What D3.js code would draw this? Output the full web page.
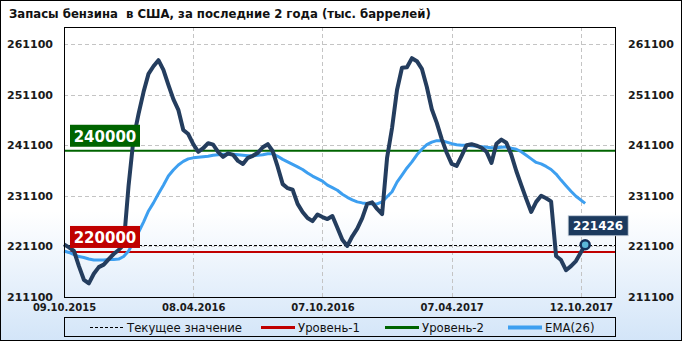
<!DOCTYPE html>
<html>
<head>
<meta charset="utf-8">
<title>Запасы бензина в США</title>
<script src="https://d3js.org/d3.v7.min.js"></script>
<style>
  body { margin: 0; }
  svg text { font-family: "DejaVu Sans", sans-serif; }
</style>
</head>
<body>
<div id="chart"></div>
<script>
// weekly stocks, thousand barrels
const gas = [
  221500, 220900, 220200, 217200, 214500, 213800, 215700, 217000, 217500, 218600,
  219600, 220400, 221400, 233200, 242500, 247300, 251600, 255200, 256700, 257900,
  256000, 253000, 250200, 248100, 244100, 243300, 241300, 239800, 240500, 241500,
  241200, 239800, 238800, 239500, 239200, 238000, 237400, 238600, 239000, 239600,
  240700, 241300, 239900, 236800, 233400, 232600, 232300, 229500, 227900, 226700,
  226100, 227400, 226900, 226500, 227100, 224800, 222400, 221200, 223100, 224600,
  226700, 229500, 229800, 228500, 227500, 238600, 244500, 252000, 256400, 256500,
  258300, 257700, 256200, 252600, 248200, 245500, 242300, 239600, 237400, 237000,
  239000, 241100, 241300, 241000, 240600, 239800, 237600, 241400, 242200, 241600,
  239200, 236000, 233200, 230500, 227900, 229900, 231100, 230600, 230000, 219200,
  218400, 216400, 217200, 218200, 221426
];
// EMA(26) as drawn
const ema = [
  220200, 219900, 219500, 219100, 218900, 218600, 218400, 218400, 218400, 218500,
  218500, 218600, 219100, 220200, 222000, 223900, 225900, 228100, 229700, 231500,
  233200, 235000, 236200, 237200, 237900, 238400, 238600, 238700, 238800, 238900,
  239100, 239200, 239300, 239300, 239300, 239200, 239100, 239000, 239000, 239100,
  239200, 239400, 239400, 238900, 238300, 237800, 237300, 236800, 236300, 235600,
  235000, 234500, 234000, 233200, 232700, 232200, 231400, 230800, 230300, 229900,
  229700, 229600, 229500, 229500, 229900, 230900, 231900, 233800, 235200, 236600,
  237800, 239200, 240300, 241200, 241700, 242000, 242000, 241700, 241400, 241200,
  241100, 241100, 241000, 240900, 240800, 240700, 240600, 240600, 240700, 240800,
  240500, 240300, 239800, 239100, 238400, 237700, 237400, 236900, 236300, 235400,
  234200, 233100, 232000, 231000, 229600
];
const level1 = 220000;
const level2 = 240000;
const yTicks = [211100, 221100, 231100, 241100, 251100, 261100];
const tickDates = ["09.10.2015", "08.04.2016", "07.10.2016", "07.04.2017", "06.10.2017"];
const tickLabels = ["09.10.2015", "08.04.2016", "07.10.2016", "07.04.2017", "12.10.2017"];
const firstDate = "09.10.2015";
const lastDate = "12.10.2017";
const legendItems = ["Текущее значение", "Уровень-1", "Уровень-2", "EMA(26)"];

const W = 682, H = 341;
const plot = { left: 64, right: 615, top: 27, bottom: 297 };
const parse = d3.timeParse("%d.%m.%Y");

// weekly dates, last point is the report date
const start = parse(firstDate);
const dates = d3.range(gas.length - 1).map(i => d3.timeDay.offset(start, 7 * i)).concat([parse(lastDate)]);

const x = d3.scaleTime()
  .domain([start, d3.timeDay.offset(start, 776)])
  .range([plot.left, plot.right]);
const y = d3.scaleLinear()
  .domain([211100, 264460])
  .range([plot.bottom, plot.top]);

const svg = d3.select('#chart').append('svg')
  .attr('width', W).attr('height', H);

const grad = svg.append('defs').append('linearGradient')
  .attr('id', 'bg').attr('x1', 0).attr('y1', 0).attr('x2', 0).attr('y2', 1);
grad.append('stop').attr('offset', '0.62').attr('stop-color', '#ffffff');
grad.append('stop').attr('offset', '1').attr('stop-color', '#d3e5f8');

svg.append('rect').attr('x', 0.5).attr('y', 0.5).attr('width', W - 1).attr('height', H - 1)
  .attr('fill', 'url(#bg)').attr('stroke', '#000');

// title
svg.append('text')
  .attr('x', 9).attr('y', 18)
  .style('font-family', '"Liberation Sans Narrow", "DejaVu Sans Condensed", sans-serif')
  .style('font-weight', 'bold').style('font-size', '13px').style('white-space', 'pre')
  .attr('fill', '#111')
  .text('Запасы бензина  в США, за последние 2 года (тыс. баррелей)');

// grid
const grid = svg.append('g').attr('stroke', '#c4c4c4').attr('stroke-dasharray', '4,3').attr('stroke-width', 1);
grid.selectAll('.hg').data(yTicks.slice(1)).enter().append('line')
  .attr('x1', plot.left).attr('x2', plot.right)
  .attr('y1', d => Math.round(y(d)) + 0.5).attr('y2', d => Math.round(y(d)) + 0.5);
grid.selectAll('.vg').data(tickDates.slice(1)).enter().append('line')
  .attr('y1', plot.top).attr('y2', plot.bottom)
  .attr('x1', d => Math.round(x(parse(d))) + 0.5).attr('x2', d => Math.round(x(parse(d))) + 0.5);

// axes labels
const yLeft = svg.append('g').attr('transform', `translate(${plot.left - 11},0)`)
  .call(d3.axisLeft(y).tickValues(yTicks).tickSize(0).tickPadding(0).tickFormat(d3.format('d')));
const yRight = svg.append('g').attr('transform', `translate(${plot.right + 13},0)`)
  .call(d3.axisRight(y).tickValues(yTicks).tickSize(0).tickPadding(0).tickFormat(d3.format('d')));
[yLeft, yRight].forEach(g => {
  g.select('.domain').remove();
  g.selectAll('text').style('font-size', '11px').style('font-weight', 'bold').attr('fill', '#1a1a1a');
});
const xAxis = svg.append('g').attr('transform', `translate(0,${plot.bottom + 7})`)
  .call(d3.axisBottom(x).tickValues(tickDates.map(parse)).tickSize(0).tickPadding(0)
    .tickFormat((d, i) => tickLabels[i]));
xAxis.select('.domain').remove();
xAxis.selectAll('text').style('font-size', '10px').style('font-weight', 'bold').attr('fill', '#1a1a1a');

// level lines
svg.append('line').attr('x1', plot.left).attr('x2', plot.right)
  .attr('y1', y(level1)).attr('y2', y(level1)).attr('stroke', '#c00000').attr('stroke-width', 2);
svg.append('line').attr('x1', plot.left).attr('x2', plot.right)
  .attr('y1', y(level2)).attr('y2', y(level2)).attr('stroke', '#006400').attr('stroke-width', 2);
const cur = gas[gas.length - 1];
svg.append('line').attr('x1', plot.left).attr('x2', plot.right)
  .attr('y1', Math.round(y(cur)) + 0.5).attr('y2', Math.round(y(cur)) + 0.5)
  .attr('stroke', '#000').attr('stroke-width', 1).attr('stroke-dasharray', '3,2');

// lines
const line = d3.line().x((d, i) => x(dates[i])).y(d => y(d));
svg.append('path').datum(ema).attr('d', line)
  .attr('fill', 'none').attr('stroke', '#3d9ff0').attr('stroke-width', 3).attr('stroke-linejoin', 'round');
svg.append('path').datum(gas).attr('d', line)
  .attr('fill', 'none').attr('stroke', '#243d5e').attr('stroke-width', 4).attr('stroke-linejoin', 'round');

// frame
svg.append('rect').attr('x', plot.left + 0.5).attr('y', plot.top + 0.5)
  .attr('width', plot.right - plot.left).attr('height', plot.bottom - plot.top)
  .attr('fill', 'none').attr('stroke', '#000');

// level labels
function tag(val, fill) {
  const g = svg.append('g').attr('transform', `translate(70,${y(val) - 26})`);
  g.append('rect').attr('width', 70).attr('height', 22).attr('fill', fill);
  g.append('text').attr('x', 35).attr('y', 17).attr('text-anchor', 'middle')
    .style('font-size', '15px').style('font-weight', 'bold').attr('fill', '#fff').text(val);
}
tag(level2, '#006400');
tag(level1, '#c00000');

// current value marker
const lx = x(dates[dates.length - 1]), ly = y(cur);
const cg = svg.append('g').attr('transform', `translate(${lx - 17},${ly - 29})`);
cg.append('rect').attr('width', 60).attr('height', 20)
  .attr('fill', '#1c3a5e').attr('stroke', '#c8d2dc').attr('stroke-width', 0.8);
cg.append('text').attr('x', 30).attr('y', 14.5).attr('text-anchor', 'middle')
  .style('font-size', '12px').style('font-weight', 'bold').attr('fill', '#fff').text(cur);
svg.append('circle').attr('cx', lx).attr('cy', ly).attr('r', 4.5)
  .attr('fill', '#5cb6d8').attr('stroke', '#16305a').attr('stroke-width', 2.5);

// legend
const lg = svg.append('g');
lg.append('rect').attr('x', plot.left + 0.5).attr('y', 317.5).attr('width', plot.right - plot.left).attr('height', 19)
  .attr('fill', 'none').attr('stroke', '#000');
const legX = [90, 261, 385, 508];
const legStyle = [
  { c: '#000', w: 1, dash: '3,2' },
  { c: '#c00000', w: 3, dash: null },
  { c: '#006400', w: 3, dash: null },
  { c: '#3d9ff0', w: 4, dash: null }
];
legendItems.forEach((t, i) => {
  lg.append('line').attr('x1', legX[i]).attr('x2', legX[i] + 34).attr('y1', 327.5).attr('y2', 327.5)
    .attr('stroke', legStyle[i].c).attr('stroke-width', legStyle[i].w)
    .attr('stroke-dasharray', legStyle[i].dash);
  lg.append('text').attr('x', legX[i] + 37).attr('y', 332)
    .style('font-family', '"Liberation Sans Narrow", "DejaVu Sans Condensed", sans-serif')
    .style('font-size', '13px').attr('fill', '#111').text(t);
});
</script>
</body>
</html>
